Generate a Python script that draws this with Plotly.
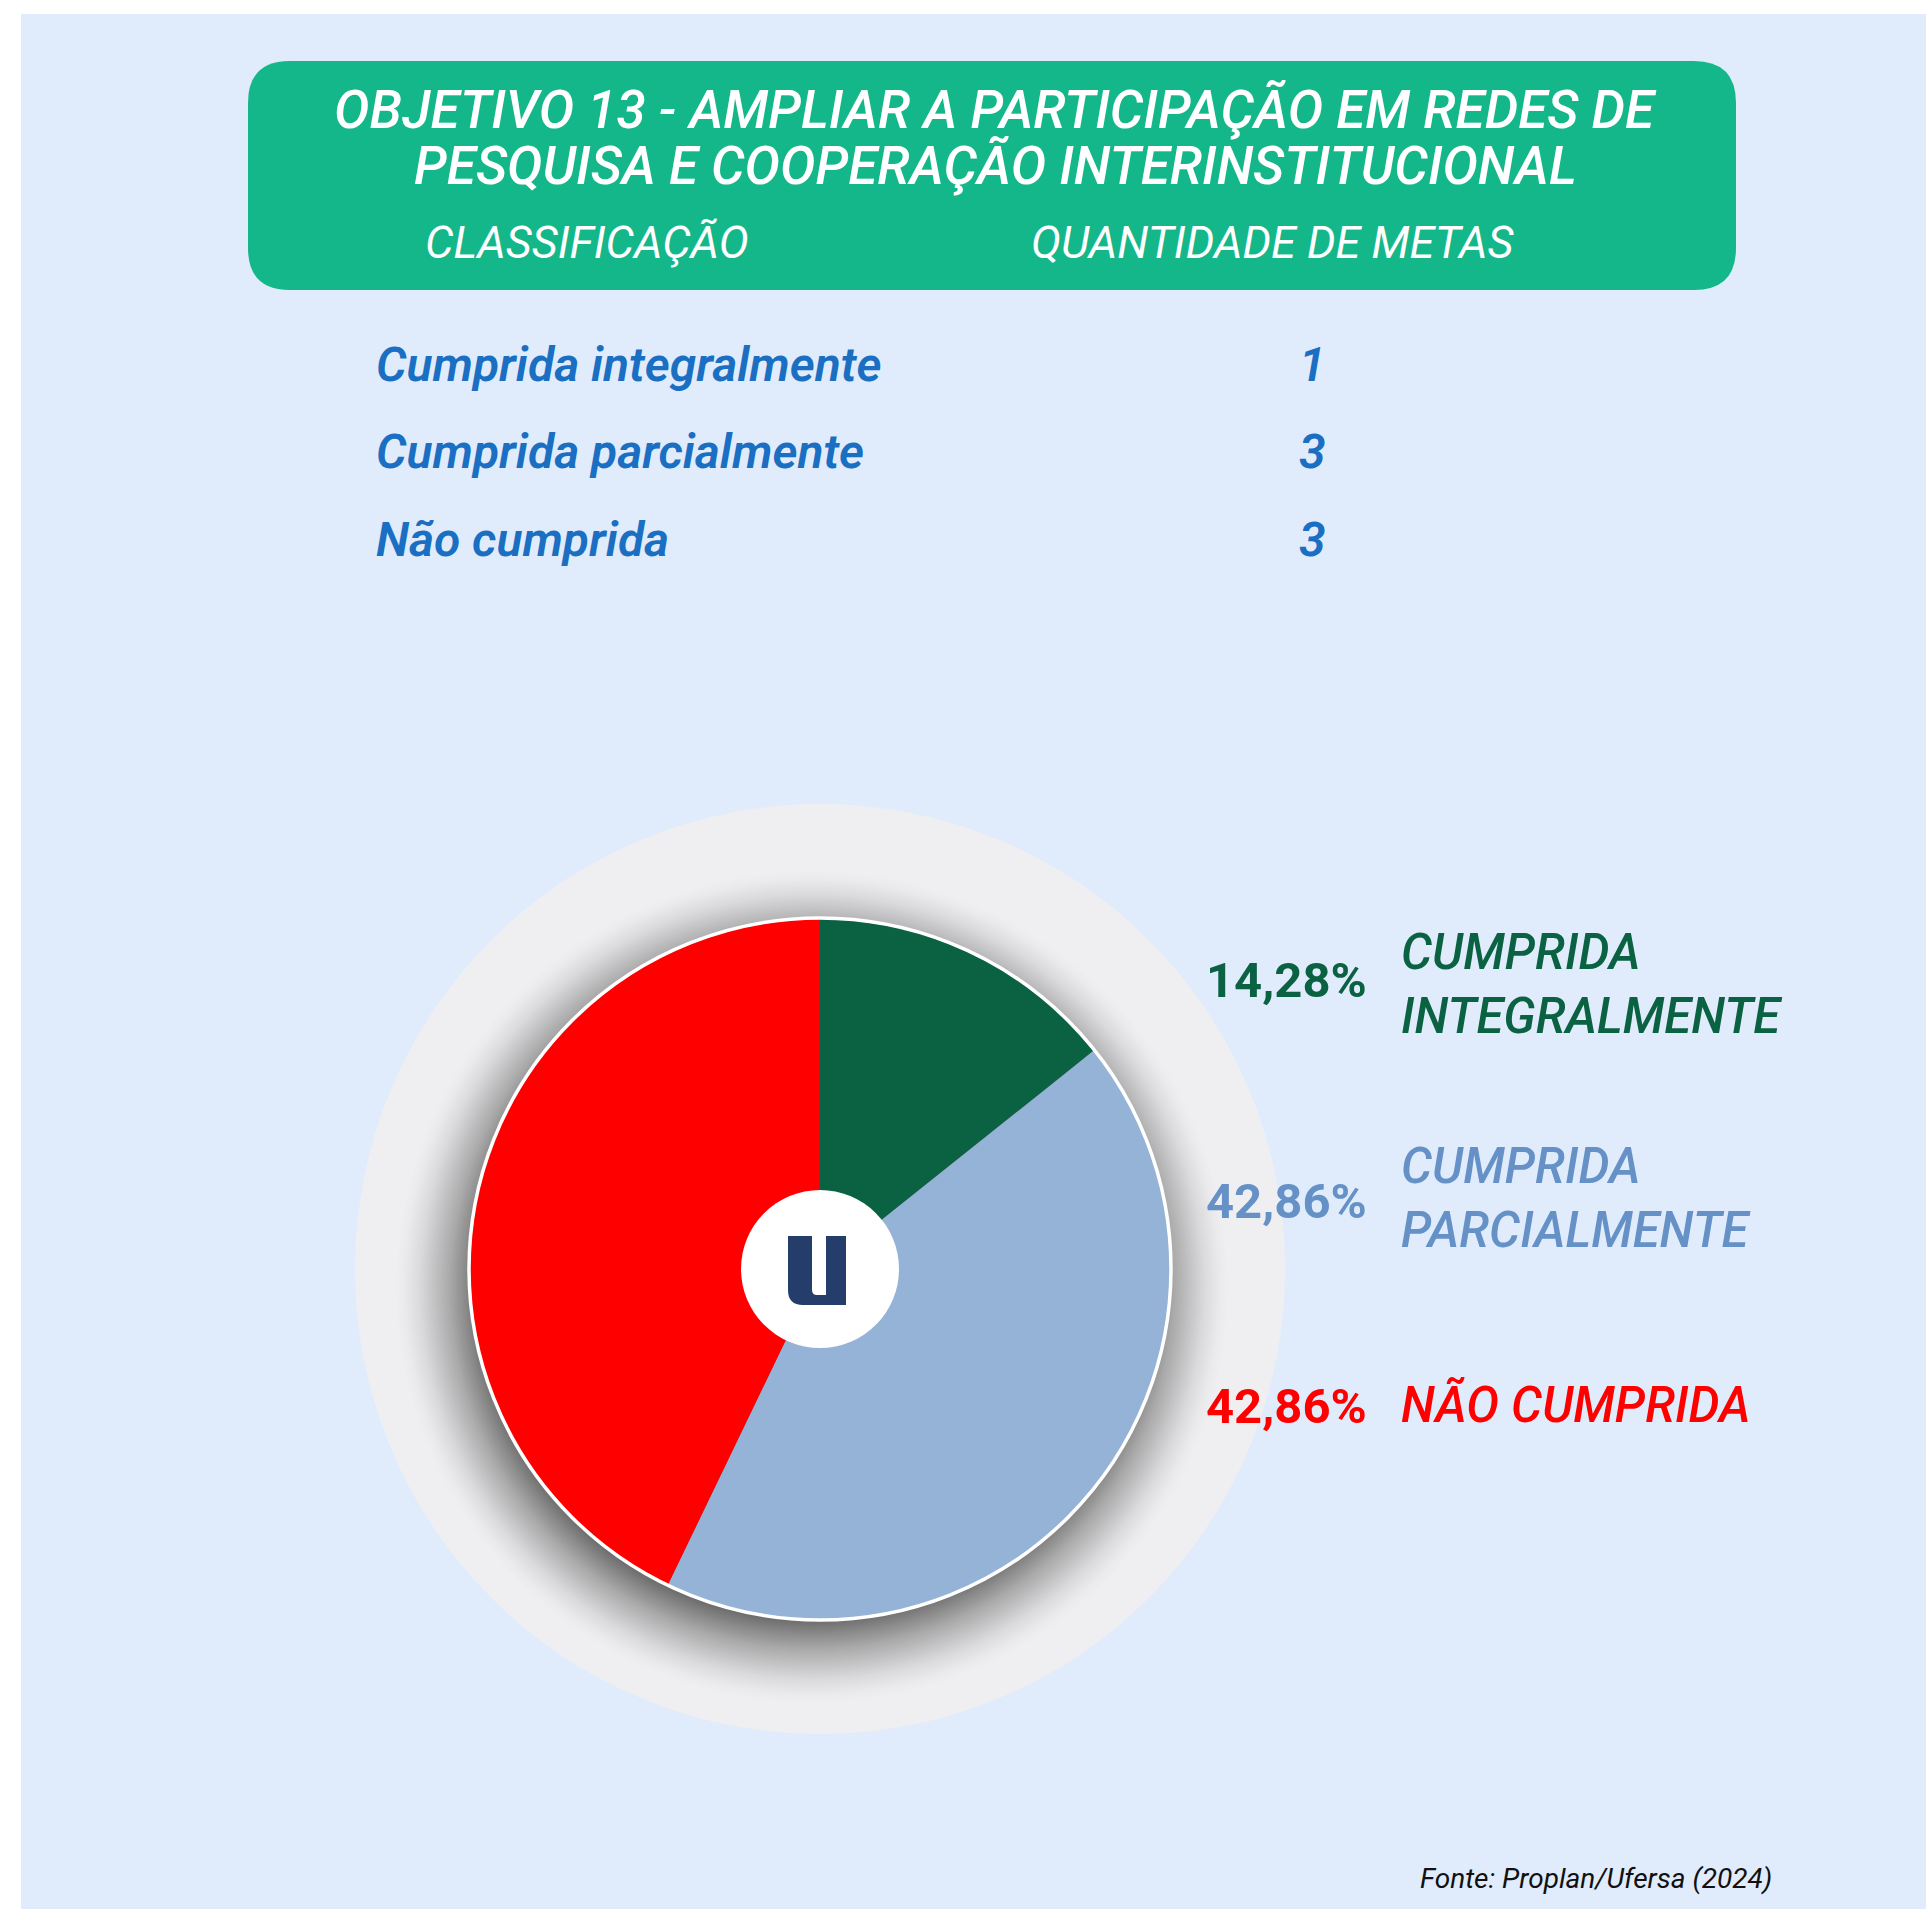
import plotly.graph_objects as go

# ---------------- data ----------------
title_lines = ["OBJETIVO 13 - AMPLIAR A PARTICIPAÇÃO EM REDES DE",
               "PESQUISA E COOPERAÇÃO INTERINSTITUCIONAL"]
col_headers = ["CLASSIFICAÇÃO", "QUANTIDADE DE METAS"]
categories = ["Cumprida integralmente", "Cumprida parcialmente", "Não cumprida"]
counts = [1, 3, 3]
pct_labels = ["14,28%", "42,86%", "42,86%"]
legend_labels = [["CUMPRIDA", "INTEGRALMENTE"], ["CUMPRIDA", "PARCIALMENTE"], ["NÃO CUMPRIDA"]]
slice_colors = ["#0B6243", "#95B3D7", "#FF0000"]
text_colors = ["#0B6243", "#6591C7", "#FF0000"]
source_note = "Fonte: Proplan/Ufersa (2024)"

# ---------------- layout helpers ----------------
W, H = 1926, 1909
def X(px):
    return px / W
def Y(py):
    return 1 - py / H
def P(px, py):
    return f"{X(px)},{Y(py)}"

BG_PAGE = "#FFFFFF"
BG_PANEL = "#E0ECFC"
GREEN_HDR = "#14B789"
RING = "#EFEFF1"
TABLE_BLUE = "#1A6FC2"

CX, CY = 820, 1269      # pie centre (px)
R_PIE = 350
R_RING = 465

fig = go.Figure()

fig.add_trace(go.Pie(
    labels=categories,
    values=counts,
    sort=False,
    direction="clockwise",
    rotation=0,
    marker=dict(colors=slice_colors, line=dict(width=0)),
    textinfo="none",
    hoverinfo="label+value+percent",
    showlegend=False,
    domain=dict(x=[X(CX - R_PIE), X(CX + R_PIE)],
                y=[Y(CY + R_PIE), Y(CY - R_PIE)]),
))

shapes = []
# panel
shapes.append(dict(type="rect", xref="paper", yref="paper",
                   x0=X(21), x1=X(W), y0=Y(H), y1=Y(14),
                   fillcolor=BG_PANEL, line=dict(width=0), layer="below"))
# rounded green header box
x0, x1, y0, y1, r = 248, 1736, 61, 290, 42
path = (f"M {P(x0 + r, y0)} L {P(x1 - r, y0)} Q {P(x1, y0)} {P(x1, y0 + r)} "
        f"L {P(x1, y1 - r)} Q {P(x1, y1)} {P(x1 - r, y1)} "
        f"L {P(x0 + r, y1)} Q {P(x0, y1)} {P(x0, y1 - r)} "
        f"L {P(x0, y0 + r)} Q {P(x0, y0)} {P(x0 + r, y0)} Z")
shapes.append(dict(type="path", xref="paper", yref="paper", path=path,
                   fillcolor=GREEN_HDR, line=dict(width=0), layer="below"))
# grey ring
shapes.append(dict(type="circle", xref="paper", yref="paper",
                   x0=X(CX - R_RING), x1=X(CX + R_RING),
                   y0=Y(CY + R_RING), y1=Y(CY - R_RING),
                   fillcolor=RING, line=dict(width=0), layer="below"))

# soft drop shadow: stacked translucent circles following a gentle profile
SX, SY = CX - 8, CY + 18
r_out, r_in, n_sh = 420, 326, 50
def darkness(rr):
    t = min(max((r_out - rr) / 92.0, 0.0), 1.0)
    return 0.55 * t ** 1.5
prev = 0.0
for k in range(1, n_sh + 1):
    rr = r_out - (r_out - r_in) * k / n_sh
    d = darkness(rr)
    a = 1 - (1 - d) / (1 - prev)
    prev = d
    if a <= 0:
        continue
    shapes.append(dict(type="circle", xref="paper", yref="paper",
                       x0=X(SX - rr), x1=X(SX + rr), y0=Y(SY + rr), y1=Y(SY - rr),
                       fillcolor=f"rgba(0,0,0,{a:.4f})", line=dict(width=0), layer="below"))

# white outline of pie
shapes.append(dict(type="circle", xref="paper", yref="paper",
                   x0=X(CX - R_PIE - 1), x1=X(CX + R_PIE + 1),
                   y0=Y(CY + R_PIE + 1), y1=Y(CY - R_PIE - 1),
                   fillcolor="rgba(0,0,0,0)", line=dict(color="#FFFFFF", width=3.5), layer="above"))
# logo
RL = 79
shapes.append(dict(type="circle", xref="paper", yref="paper",
                   x0=X(CX - RL), x1=X(CX + RL), y0=Y(CY + RL), y1=Y(CY - RL),
                   fillcolor="#FFFFFF", line=dict(width=0), layer="above"))
upath = (f"M {P(788, 1236)} L {P(812, 1236)} L {P(812, 1290)} Q {P(812, 1295)} {P(817, 1295)} "
         f"L {P(826, 1295)} L {P(826, 1236)} L {P(846, 1236)} L {P(846, 1305)} "
         f"L {P(803, 1305)} Q {P(788, 1305)} {P(788, 1290)} Z")
shapes.append(dict(type="path", xref="paper", yref="paper", path=upath,
                   fillcolor="#253D6B", line=dict(width=0), layer="above"))

ann = []
def text(t, px, py, size, color, weight=400, style="italic", xanchor="center"):
    ann.append(dict(text=t, x=X(px), y=Y(py), xref="paper", yref="paper",
                    xanchor=xanchor, yanchor="middle", showarrow=False,
                    font=dict(family="Roboto", size=size, color=color,
                              weight=weight, style=style)))

# header
text(title_lines[0], 996, 110, 53, "#FFFFFF", weight=500)
text(title_lines[1], 996, 166, 53, "#FFFFFF", weight=500)
text(col_headers[0], 587, 242, 45, "#FFFFFF", weight=400)
text(col_headers[1], 1273, 242, 45, "#FFFFFF", weight=400)

# table rows
row_y = [364, 452, 540]
for cat, cnt, yy in zip(categories, counts, row_y):
    text(cat, 374, yy, 48, TABLE_BLUE, weight=600, xanchor="left")
    text(str(cnt), 1312, yy, 48, TABLE_BLUE, weight=600)

# pie labels
pct_y = [980, 1201, 1406]
label_y = [[952, 1016], [1166, 1230], [1405]]
for pl, ll, py, ly, col in zip(pct_labels, legend_labels, pct_y, label_y, text_colors):
    text(pl, 1369, py, 49, col, weight=700, style="normal", xanchor="right")
    for line, yy in zip(ll, ly):
        text(line, 1399, yy, 49, col, weight=500, xanchor="left")

# source
text(source_note, 1774, 1878, 28, "#111111", weight=400, xanchor="right")

fig.update_layout(
    width=W, height=H,
    margin=dict(l=0, r=0, t=0, b=0),
    paper_bgcolor=BG_PAGE,
    plot_bgcolor=BG_PAGE,
    shapes=shapes,
    annotations=ann,
    showlegend=False,
)

fig.write_html("out.html",
               config={"displayModeBar": False},
               post_script="document.body.style.margin='0';document.body.style.overflow='hidden';")
